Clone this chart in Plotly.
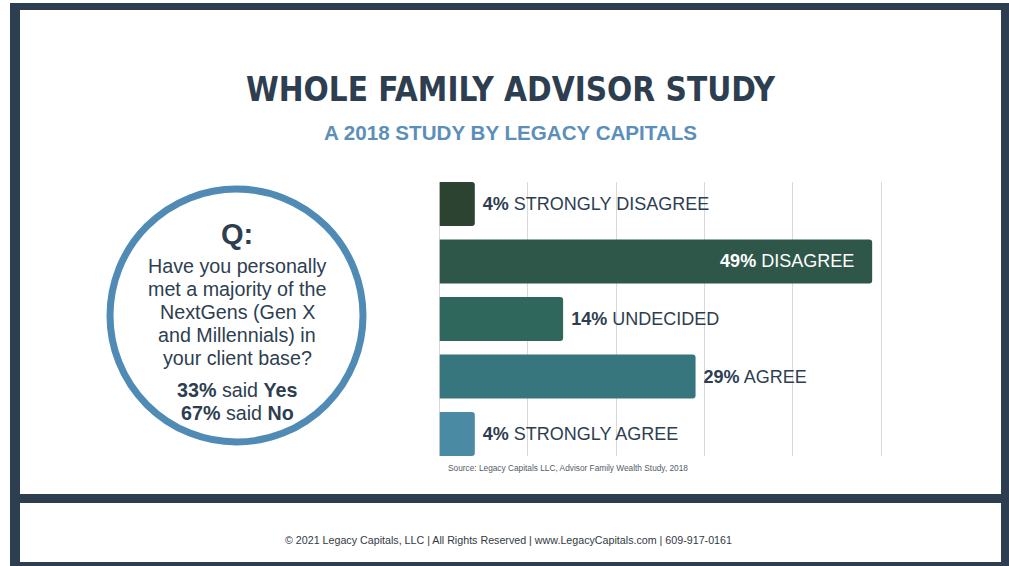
import plotly.graph_objects as go

W, H = 1009, 566

# ---- data ----
categories = ["STRONGLY DISAGREE", "DISAGREE", "UNDECIDED", "AGREE", "STRONGLY AGREE"]
percents = [4, 49, 14, 29, 4]
bar_colors = ["#2c4332", "#2e574a", "#30675d", "#37767c", "#4a8aa3"]
text_positions = ["outside", "inside", "outside", "outside", "outside"]
x_ticks = [0, 10, 20, 30, 40, 50]

question_lines = [
    "Have you personally",
    "met a majority of the",
    "NextGens (Gen X",
    "and Millennials) in",
    "your client base?",
]
answer_lines = ["<b>33%</b> said <b>Yes</b>", "<b>67%</b> said <b>No</b>"]

DARK = "#2d3e50"
BLUE = "#4f8bb5"
FONT = "Liberation Sans, Arial, sans-serif"


def X(px):
    return px / W


def Y(py):
    return 1 - py / H


bar_text = []
for v, lab, pos in zip(percents, categories, text_positions):
    if pos == "inside":
        bar_text.append(f"<b>{v}%</b> {lab}\u00a0\u00a0\u00a0")
    else:
        bar_text.append(f"\u00a0<b>{v}%</b> {lab}")

fig = go.Figure()
fig.add_trace(go.Bar(
    y=list(range(len(categories))),
    x=percents,
    orientation="h",
    marker=dict(color=bar_colors, line=dict(width=0)),
    text=bar_text,
    textposition=text_positions,
    insidetextanchor="end",
    insidetextfont=dict(color="white", size=18, family=FONT),
    outsidetextfont=dict(color=DARK, size=18, family=FONT),
    constraintext="none",
    cliponaxis=False,
    hoverinfo="skip",
))

shapes = [
    # dark frame
    dict(type="rect", xref="paper", yref="paper", x0=X(10), x1=X(1009), y0=Y(566), y1=Y(3),
         fillcolor=DARK, line=dict(width=0), layer="below"),
    # main white panel
    dict(type="rect", xref="paper", yref="paper", x0=X(20), x1=X(1001), y0=Y(494), y1=Y(10),
         fillcolor="white", line=dict(width=0), layer="below"),
    # footer white panel
    dict(type="rect", xref="paper", yref="paper", x0=X(20), x1=X(1001), y0=Y(562), y1=Y(503),
         fillcolor="white", line=dict(width=0), layer="below"),
    # question circle
    dict(type="circle", xref="paper", yref="paper",
         x0=X(236.5 - 126.5), x1=X(236.5 + 126.5), y0=Y(315.5 + 126.5), y1=Y(315.5 - 126.5),
         fillcolor="white", line=dict(color=BLUE, width=7), layer="below"),
]

annotations = [
    dict(text="WHOLE FAMILY ADVISOR STUDY", x=X(511), y=Y(89), xref="paper", yref="paper",
         showarrow=False, xanchor="center", yanchor="middle",
         font=dict(family="Liberation Sans Narrow, DejaVu Sans Condensed, Arial Narrow, sans-serif",
                   size=33, color=DARK, weight="bold")),
    dict(text="<b>A 2018 STUDY BY LEGACY CAPITALS</b>", x=X(511), y=Y(132), xref="paper", yref="paper",
         showarrow=False, xanchor="center", yanchor="middle",
         font=dict(family=FONT, size=20.6, color="#5b8fba")),
    dict(text="<b>Q:</b>", x=X(237), y=Y(234), xref="paper", yref="paper",
         showarrow=False, xanchor="center", yanchor="middle",
         font=dict(family=FONT, size=29, color=DARK)),
    dict(text="Source: Legacy Capitals LLC, Advisor Family Wealth Study, 2018", x=X(446), y=Y(468),
         xref="paper", yref="paper", showarrow=False, xanchor="left", yanchor="middle",
         font=dict(family=FONT, size=8.3, color="#555c66")),
    dict(text="© 2021 Legacy Capitals, LLC | All Rights Reserved | www.LegacyCapitals.com | 609-917-0161",
         x=X(508), y=Y(540), xref="paper", yref="paper", showarrow=False,
         xanchor="center", yanchor="middle",
         font=dict(family=FONT, size=10.7, color="#333a44")),
]

q_y = [266, 289, 312, 335, 358]
for line, yy in zip(question_lines, q_y):
    annotations.append(dict(text=line, x=X(237), y=Y(yy), xref="paper", yref="paper",
                            showarrow=False, xanchor="center", yanchor="middle",
                            font=dict(family=FONT, size=19.7, color=DARK)))
a_y = [390, 413]
for line, yy in zip(answer_lines, a_y):
    annotations.append(dict(text=line, x=X(237), y=Y(yy), xref="paper", yref="paper",
                            showarrow=False, xanchor="center", yanchor="middle",
                            font=dict(family=FONT, size=19.7, color=DARK)))

# x range a bit beyond 50 so the last gridline is drawn
x_max = 51
px_per_unit = (881.0 - 439.5) / 50.0
fig.update_layout(
    width=W, height=H,
    margin=dict(l=0, r=0, t=0, b=0),
    paper_bgcolor="white",
    plot_bgcolor="rgba(0,0,0,0)",
    showlegend=False,
    bargap=0.235,
    barcornerradius=3,
    shapes=shapes,
    annotations=annotations,
    xaxis=dict(domain=[X(439.5), X(439.5 + px_per_unit * x_max)], range=[0, x_max], tickvals=x_ticks,
               showticklabels=False, showgrid=True, gridcolor="#d9d9d9", gridwidth=1,
               zeroline=True, zerolinecolor="#d9d9d9", zerolinewidth=1, fixedrange=True),
    yaxis=dict(domain=[Y(456), Y(182)], range=[4.3825, -0.3825], showticklabels=False,
               showgrid=False, zeroline=False, fixedrange=True),
)

fig.write_html("out.html")
